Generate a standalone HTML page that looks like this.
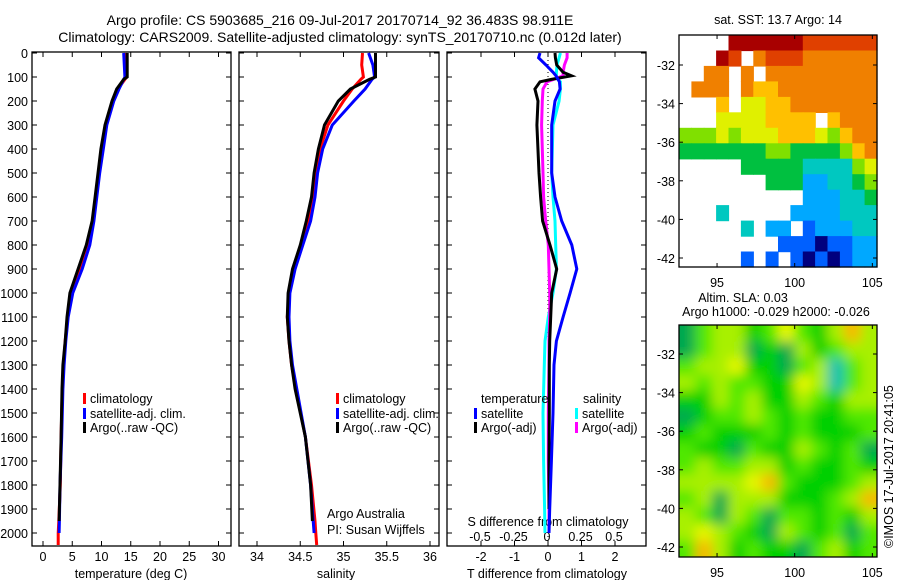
<!DOCTYPE html>
<html><head><meta charset="utf-8">
<style>
html,body{margin:0;padding:0;background:#fff;}
svg{display:block;font-family:"Liberation Sans",sans-serif;}
text{font-size:12.5px;fill:#000;}
</style></head>
<body>
<svg id="fig" width="900" height="580" viewBox="0 0 900 580">
<defs>
<clipPath id="cp1"><rect x="32" y="52" width="199" height="494"/></clipPath>
<clipPath id="cp2"><rect x="239" y="52" width="200" height="494"/></clipPath>
<clipPath id="cp3"><rect x="447" y="52" width="199" height="494"/></clipPath>
<clipPath id="cpm2"><rect x="679" y="325" width="198" height="232"/></clipPath>
<filter id="blur" x="-5%" y="-5%" width="110%" height="110%"><feGaussianBlur stdDeviation="6"/></filter>
</defs>
<text x="340" y="25" text-anchor="middle" style="font-size:14px">Argo profile: CS 5903685_216 09-Jul-2017 20170714_92 36.483S 98.911E</text>
<text x="340" y="42" text-anchor="middle" style="font-size:14px">Climatology: CARS2009. Satellite-adjusted climatology: synTS_20170710.nc (0.012d later)</text>
<g id="layer"></g>
</svg>
<script>
// ---------- data ----------
const depths      = [0,50,100,110,150,200,300,400,500,600,700,800,900,1000,1100,1200,1300,1400,1600,1800,1950,2000,2050];
const tempArgo    = [14.4,14.4,14.4,13.8,12.6,11.8,10.6,9.9,9.4,8.9,8.4,7.4,6.0,4.6,4.1,3.8,3.4,3.25,3.1,2.9,2.75,null,null];
const tempClim    = [14.1,14.2,14.3,14.0,12.8,12.0,10.8,10.1,9.6,9.1,8.6,7.5,6.3,4.8,4.2,3.8,3.5,3.3,3.1,2.95,2.7,2.6,2.6];
const tempSat     = [13.8,13.9,14.0,13.8,13.0,12.1,10.9,10.3,9.7,9.2,8.7,8.0,6.7,5.1,4.3,3.9,3.6,3.4,3.2,2.9,2.8,2.75,null];
const salArgo     = [35.37,35.37,35.37,35.3,35.08,34.94,34.78,34.71,34.66,34.63,34.57,34.5,34.41,34.36,34.35,34.37,34.4,34.44,34.56,34.62,34.64,null,null];
const salClim     = [35.22,35.21,35.23,35.2,35.1,35.0,34.82,34.73,34.68,34.65,34.6,34.51,34.43,34.37,34.35,34.37,34.4,34.45,34.56,34.63,34.67,34.68,34.69];
const salSat      = [35.29,35.34,35.36,35.33,35.25,35.12,34.87,34.76,34.7,34.67,34.62,34.53,34.44,34.38,34.37,34.38,34.41,34.46,34.56,34.62,34.65,34.66,null];
const dDepths     = [0,20,50,80,95,110,120,150,200,300,500,600,700,800,900,1000,1100,1200,1300,1500,1700,1900,2000];
const dTsat       = [-0.24,-0.28,-0.06,0.15,0.24,0.3,0.34,0.36,0.21,0.11,0.11,0.21,0.41,0.71,0.86,0.66,0.45,0.25,0.18,0.15,0.1,0.05,0.03];
const dTargo      = [0.21,0.22,0.26,0.45,0.7,0.1,-0.24,-0.39,-0.3,-0.33,-0.27,-0.22,-0.16,0.06,0.26,0.11,0.08,0.05,0.04,0.04,0.03,0.03,null];
const dSsat       = [0.1,0.09,0.075,0.07,0.07,0.08,0.1,0.1,0.09,0.045,0.035,0.045,0.06,0.065,0.07,0.045,0.01,-0.015,-0.02,-0.03,-0.025,-0.018,-0.015];
const dSargo      = [0.15,0.15,0.13,0.12,0.12,0.05,0.0,-0.03,-0.035,-0.04,-0.03,-0.025,-0.01,0.01,0.015,0.02,0.02,0.015,0.015,0.01,0.01,0.015,0.015];
const depthTicks  = [0,100,200,300,400,500,600,700,800,900,1000,1100,1200,1300,1400,1500,1600,1700,1800,1900,2000];
const tempTicks   = [0,5,10,15,20,25,30];
const salTicks    = [34,34.5,35,35.5,36];
const dTTicks     = [-2,-1,0,1,2];
const dSTicks     = [-0.5,-0.25,0,0.25,0.5];
const dSTickLabels= ["-0.5","-0.25","0","0.25","0.5"];
const latTicks    = [-32,-34,-36,-38,-40,-42];
const lonTicks    = [95,100,105];
// SST grid: rows north->south (-30.5..-42.4), cols west->east; -1 = no data; colour index 0..10
const sstGrid = [
[-1,-1,-1,-1,10,10,10,10,10,10,9,9,9,9,9,9],
[-1,-1,-1,10,9,-1,8,9,9,9,8,8,8,8,8,8],
[-1,-1,8,8,-1,8,-1,8,8,8,8,8,8,8,8,8],
[-1,8,8,8,-1,8,7,7,8,8,8,8,8,8,8,8],
[-1,-1,-1,7,-1,6,6,7,7,8,8,8,8,8,8,8],
[-1,-1,-1,6,6,6,6,7,7,7,7,-1,7,8,8,8],
[5,5,5,6,5,6,6,6,7,7,7,6,5,7,8,8],
[4,4,4,4,4,4,4,5,5,4,4,4,4,5,7,8],
[-1,-1,-1,-1,-1,4,4,4,4,4,3,3,3,3,5,6],
[-1,-1,-1,-1,-1,-1,-1,4,4,4,2,2,3,3,4,5],
[-1,-1,-1,-1,-1,-1,-1,-1,-1,-1,2,2,2,3,3,4],
[-1,-1,-1,3,-1,-1,-1,-1,-1,2,2,2,2,3,3,3],
[-1,-1,-1,-1,-1,3,-1,2,2,-1,1,2,2,2,3,3],
[-1,-1,-1,-1,-1,-1,-1,-1,1,1,1,0,1,1,2,2],
[-1,-1,-1,-1,-1,1,-1,1,-1,1,0,1,0,1,2,2]
];
// SLA grid: rows north->south, colour index 0..6
const slaGrid = [
[1,3,4,4,2,3,5,3,2,4,6,4],
[1,3,4,4,1,2,1,4,2,3,4,4],
[3,4,4,5,2,2,1,3,4,0,3,4],
[4,3,4,3,3,2,2,5,4,0,3,4],
[2,2,4,3,4,2,2,4,3,2,4,4],
[1,2,3,3,4,3,2,3,2,2,3,3],
[2,3,2,2,2,3,2,3,2,2,2,3],
[3,2,2,1,3,2,2,4,3,2,3,1],
[3,4,3,3,4,4,2,3,2,2,3,2],
[4,4,4,4,5,6,3,2,2,2,3,4],
[3,4,1,4,4,4,2,2,2,3,4,6],
[4,3,1,4,3,1,3,3,2,3,2,4],
[4,5,4,3,2,1,4,3,2,3,1,3],
[3,6,4,2,3,2,2,1,3,4,2,3]
];
const sstColors = ["#00007f","#0060ff","#00a8ff","#00c8c0","#00c040","#80e000","#e0f000","#ffc000","#f08000","#e04000","#a80000"];
const slaColors = ["#00c0b0","#00a850","#00d000","#50e800","#a8f000","#e8f800","#f8b800"];

// ---------- scales ----------
const Y = d => 53 + d*0.24;
const xT = t => 43 + t*5.85;
const xS = s => 257 + (s-34)*86.5;
const xDT = v => 548 + v*33.5;
const xDS = v => 547 + v*134;
const m1 = {x0:679,x1:877,y0:35,y1:267};
const lonX = (lon,m) => m.x0 + (lon-92.55)*(m.x1-m.x0)/(105.3-92.55);
const latY1 = lat => 65 + (-32-lat)*19.3;
const m2 = {x0:679,x1:877,y0:325,y1:557};
const latY2 = lat => 354 + (-32-lat)*19.3;

const NS="http://www.w3.org/2000/svg";
const layer=document.getElementById('layer');
function mk(tag,attrs,parent){const e=document.createElementNS(NS,tag);for(const k in attrs)e.setAttribute(k,attrs[k]);(parent||layer).appendChild(e);return e;}
function txt(x,y,s,anchor,parent){const t=mk('text',{x:x,y:y,'text-anchor':anchor||'start'},parent);t.textContent=s;return t;}

function line(xs,ds,xf,color,w,clip,name){
  let d="";let pen=false;
  for(let i=0;i<ds.length;i++){ if(xs[i]===null){pen=false;continue;}
    d+=(pen?"L":"M")+xf(xs[i]).toFixed(1)+","+Y(ds[i]).toFixed(1); pen=true;}
  const p=mk('path',{d:d,fill:'none',stroke:color,'stroke-width':w,'clip-path':'url(#'+clip+')','stroke-linejoin':'miter'});
  
  
  return p;
}
function frame(x0,x1,name){
  const r=mk('rect',{x:x0,y:52,width:x1-x0,height:494,fill:'none',stroke:'#000','stroke-width':1.3});
  
  
  depthTicks.forEach(d=>{mk('line',{x1:x0,x2:x0+5,y1:Y(d),y2:Y(d),stroke:'#000'});mk('line',{x1:x1,x2:x1-5,y1:Y(d),y2:Y(d),stroke:'#000'});});
}
// Panel 1
frame(32,231,'temperature-panel');
depthTicks.forEach(d=>{const t=txt(28,Y(d)+5,String(d),'end');});
tempTicks.forEach(v=>{mk('line',{x1:xT(v),x2:xT(v),y1:546,y2:541,stroke:'#000'});mk('line',{x1:xT(v),x2:xT(v),y1:52,y2:57,stroke:'#000'});const t=txt(xT(v),561,String(v),'middle');});
let at=txt(131,578,'temperature (deg C)','middle');
line(tempClim,depths,xT,'#ff0000',3,'cp1','temp-climatology-line');
line(tempSat,depths,xT,'#0000ff',3,'cp1','temp-satellite-line');
line(tempArgo,depths,xT,'#000000',3,'cp1','temp-argo-line');
// Panel 2
frame(239,439,'salinity-panel');
salTicks.forEach(v=>{mk('line',{x1:xS(v),x2:xS(v),y1:546,y2:541,stroke:'#000'});mk('line',{x1:xS(v),x2:xS(v),y1:52,y2:57,stroke:'#000'});const t=txt(xS(v),561,String(v),'middle');});
at=txt(336,578,'salinity','middle');
line(salClim,depths,xS,'#ff0000',3,'cp2','sal-climatology-line');
line(salSat,depths,xS,'#0000ff',3,'cp2','sal-satellite-line');
line(salArgo,depths,xS,'#000000',3,'cp2','sal-argo-line');
// Panel 3
frame(447,646,'difference-panel');
dTTicks.forEach(v=>{mk('line',{x1:xDT(v),x2:xDT(v),y1:546,y2:541,stroke:'#000'});mk('line',{x1:xDT(v),x2:xDT(v),y1:52,y2:57,stroke:'#000'});const t=txt(xDT(v),561,String(v),'middle');});
dSTicks.forEach((v,i)=>{const t=txt(xDS(v),541,dSTickLabels[i],'middle');});
at=txt(547,578,'T difference from climatology','middle');
at=txt(548,526,'S difference from climatology','middle');
const zl=mk('line',{x1:548,x2:548,y1:52,y2:546,stroke:'#000','stroke-dasharray':'1,3'});

line(dSsat,dDepths,xDS,'#00ffff',3,'cp3','dS-satellite-line');
line(dSargo,dDepths,xDS,'#ff00ff',3,'cp3','dS-argo-line');
line(dTargo,dDepths,xDT,'#000000',3,'cp3','dT-argo-line');
line(dTsat,dDepths,xDT,'#0000ff',3,'cp3','dT-satellite-line');

// Legends
function legEntry(x,y,color,label,name){
  const g=mk('g',{});
  
  
  mk('rect',{x:x,y:y-10,width:3,height:11,fill:color},g);
  txt(x+7,y,label,'start',g);
}
legEntry(83,403,'#ff0000','climatology','legend-entry-climatology');
legEntry(83,418,'#0000ff','satellite-adj. clim.','legend-entry-satellite-adj');
legEntry(83,432,'#000000','Argo(..raw -QC)','legend-entry-argo');
legEntry(336,403,'#ff0000','climatology','legend-entry-climatology-sal');
legEntry(336,418,'#0000ff','satellite-adj. clim.','legend-entry-satellite-adj-sal');
legEntry(336,432,'#000000','Argo(..raw -QC)','legend-entry-argo-sal');
let lt=txt(481,403,'temperature');
lt=txt(583,403,'salinity');
legEntry(474,418,'#0000ff','satellite','legend-entry-T-satellite');
legEntry(474,432,'#000000','Argo(-adj)','legend-entry-T-argo');
legEntry(575,418,'#00ffff','satellite','legend-entry-S-satellite');
legEntry(575,432,'#ff00ff','Argo(-adj)','legend-entry-S-argo');
lt=txt(327,518,'Argo Australia');
lt=txt(327,534,'PI: Susan Wijffels');

// Map 1: SST
const g1=mk('g',{});


const nr1=sstGrid.length, nc1=sstGrid[0].length;
const cw1=(m1.x1-m1.x0)/nc1, ch1=(m1.y1-m1.y0)/nr1;
sstGrid.forEach((row,r)=>row.forEach((v,c)=>{ if(v<0)return;
  const cell=mk('rect',{x:(m1.x0+c*cw1).toFixed(1),y:(m1.y0+r*ch1).toFixed(1),width:(cw1+0.6).toFixed(1),height:(ch1+0.6).toFixed(1),fill:sstColors[v]},g1);
  
  
}));
mk('rect',{x:m1.x0,y:m1.y0,width:m1.x1-m1.x0,height:m1.y1-m1.y0,fill:'none',stroke:'#000','stroke-width':1.3});
latTicks.forEach(l=>{mk('line',{x1:m1.x0,x2:m1.x0+4,y1:latY1(l),y2:latY1(l),stroke:'#000'});mk('line',{x1:m1.x1,x2:m1.x1-4,y1:latY1(l),y2:latY1(l),stroke:'#000'});const t=txt(675,latY1(l)+5,String(l),'end');});
lonTicks.forEach(l=>{const x=lonX(l,m1);mk('line',{x1:x,x2:x,y1:m1.y1,y2:m1.y1-4,stroke:'#000'});mk('line',{x1:x,x2:x,y1:m1.y0,y2:m1.y0+4,stroke:'#000'});const t=txt(x,287,String(l),'middle');});
lt=txt(778,24,'sat. SST: 13.7 Argo: 14','middle');

// Map 2: SLA
const g2=mk('g',{'clip-path':'url(#cpm2)'});


const g2b=mk('g',{filter:'url(#blur)'},g2);
const nr2=slaGrid.length, nc2=slaGrid[0].length;
const cw2=(m2.x1-m2.x0)/nc2, ch2=(m2.y1-m2.y0)/nr2;
mk('rect',{x:m2.x0-20,y:m2.y0-20,width:m2.x1-m2.x0+40,height:m2.y1-m2.y0+40,fill:slaColors[3]},g2b);
slaGrid.forEach((row,r)=>row.forEach((v,c)=>{
  const x=m2.x0+c*cw2 - (c===0?15:0), y=m2.y0+r*ch2-(r===0?15:0);
  const w=cw2+0.6+(c===0?15:0)+(c===nc2-1?15:0), h=ch2+0.6+(r===0?15:0)+(r===nr2-1?15:0);
  const cell=mk('rect',{x:x.toFixed(1),y:y.toFixed(1),width:w.toFixed(1),height:h.toFixed(1),fill:slaColors[v]},g2b);
  
  
}));
mk('rect',{x:m2.x0,y:m2.y0,width:m2.x1-m2.x0,height:m2.y1-m2.y0,fill:'none',stroke:'#000','stroke-width':1.3});
latTicks.forEach(l=>{mk('line',{x1:m2.x0,x2:m2.x0+4,y1:latY2(l),y2:latY2(l),stroke:'#000'});mk('line',{x1:m2.x1,x2:m2.x1-4,y1:latY2(l),y2:latY2(l),stroke:'#000'});const t=txt(675,latY2(l)+5,String(l),'end');});
lonTicks.forEach(l=>{const x=lonX(l,m2);mk('line',{x1:x,x2:x,y1:m2.y1,y2:m2.y1-4,stroke:'#000'});mk('line',{x1:x,x2:x,y1:m2.y0,y2:m2.y0+4,stroke:'#000'});const t=txt(x,577,String(l),'middle');});
lt=txt(743,302,'Altim. SLA: 0.03','middle');
lt=txt(776,316,'Argo h1000: -0.029 h2000: -0.026','middle');
lt=txt(0,0,'©IMOS 17-Jul-2017 20:41:05','start');lt.setAttribute('transform','translate(893,548) rotate(-90)');

</script>
</body></html>
